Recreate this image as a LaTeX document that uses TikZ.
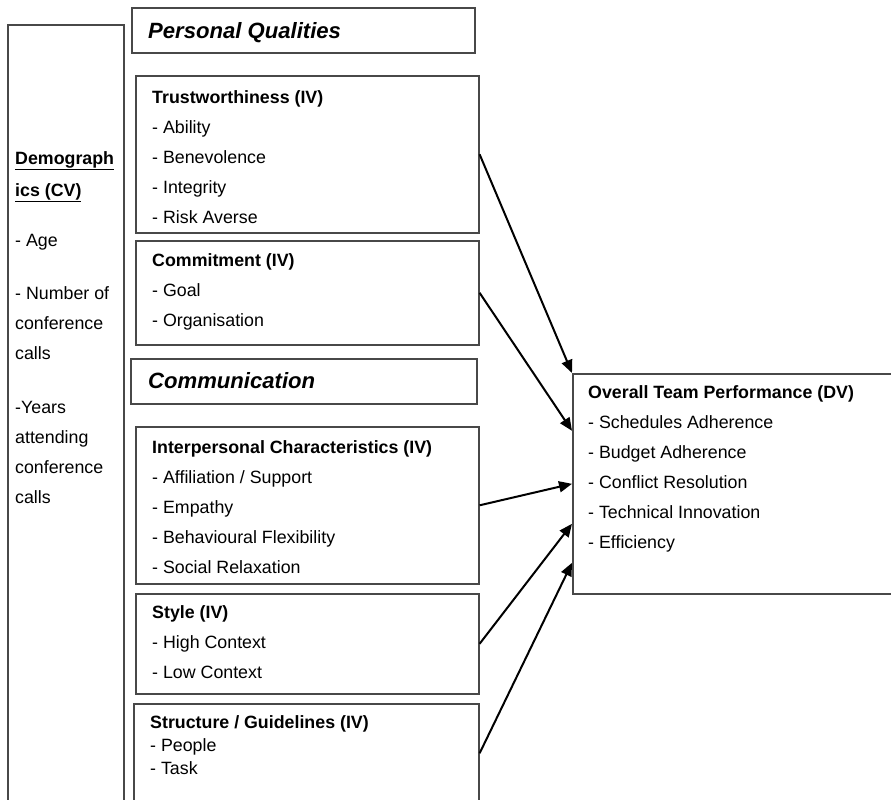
\documentclass[tikz,border=0pt]{standalone}
\usepackage{fontspec}
\setmainfont{Liberation Sans}
\usetikzlibrary{calc,arrows.meta}
\definecolor{boxGrey}{RGB}{72,72,72}

\begin{document}
\begin{tikzpicture}[x=1pt,y=-1pt,
    box/.style={draw=boxGrey, line width=1.6pt, anchor=north west, inner sep=0pt},
    txt/.style={anchor=north west, inner sep=0pt, align=left,
        font=\fontsize{17.8}{30}\selectfont},
    head/.style={anchor=north west, inner sep=0pt,
        font=\fontsize{22.1}{26}\selectfont\bfseries\itshape},
    link/.style={line width=2pt, -{Triangle[length=13pt,width=11pt]}}]
    \useasboundingbox (0,0) rectangle (891,800);
    \clip (0,0) rectangle (891,800);
    % boxes
    \node[box, minimum width=116pt, minimum height=796pt] (demo) at (7,24) {};
    \node[box, minimum width=343pt, minimum height=45pt] (pq) at (131,7) {};
    \node[box, minimum width=343pt, minimum height=157pt] (trust) at (135,75) {};
    \node[box, minimum width=343pt, minimum height=104pt] (commit) at (135,240) {};
    \node[box, minimum width=346pt, minimum height=45pt] (comm) at (130,358) {};
    \node[box, minimum width=343pt, minimum height=157pt] (inter) at (135,426) {};
    \node[box, minimum width=343pt, minimum height=100pt] (style) at (135,593) {};
    \node[box, minimum width=345pt, minimum height=99pt] (struct) at (133,703) {};
    \node[box, minimum width=333pt, minimum height=220pt] (perf) at (572,373) {};
    % texts
    \node[txt] (demotxt) at (15,151.4) {\textbf{\underline{Demograph}}\\[2pt]
        \textbf{\underline{ics (CV)}}\\[20pt]- Age\\[23pt]- Number of\\conference\\calls\\[24pt]
        -Years\\attending\\conference\\calls};
    \node[head] (pqtxt) at (148,21.8) {Personal Qualities};
    \node[txt] (trusttxt) at (152,90.4) {\textbf{Trustworthiness (IV)}\\- Ability\\- Benevolence\\
        - Integrity\\- Risk Averse};
    \node[txt] (committxt) at (152,253.4) {\textbf{Commitment (IV)}\\- Goal\\- Organisation};
    \node[head] (commtxt) at (148,371.8) {Communication};
    \node[txt] (intertxt) at (152,440.4) {\textbf{Interpersonal Characteristics (IV)}\\
        - Affiliation / Support\\- Empathy\\- Behavioural Flexibility\\- Social Relaxation};
    \node[txt] (styletxt) at (152,605.4) {\textbf{Style (IV)}\\- High Context\\- Low Context};
    \node[txt, font=\fontsize{17.8}{23}\selectfont] (structtxt) at (150,715.4)
        {\textbf{Structure / Guidelines (IV)}\\- People\\- Task};
    \node[txt] (perftxt) at (588,385.4) {\textbf{Overall Team Performance (DV)}\\
        - Schedules Adherence\\- Budget Adherence\\- Conflict Resolution\\
        - Technical Innovation\\- Efficiency};
    % arrows
    \draw[link] (trust.east) -- (perf.north west);
    \draw[link] (commit.east) -- ([yshift=53pt]perf.west);
    \draw[link] (inter.east) -- (perf.west);
    \draw[link] (style.east) -- ([yshift=-40pt]perf.west);
    \draw[link] (struct.east) -- ([yshift=-79pt]perf.west);
\end{tikzpicture}
\end{document}
